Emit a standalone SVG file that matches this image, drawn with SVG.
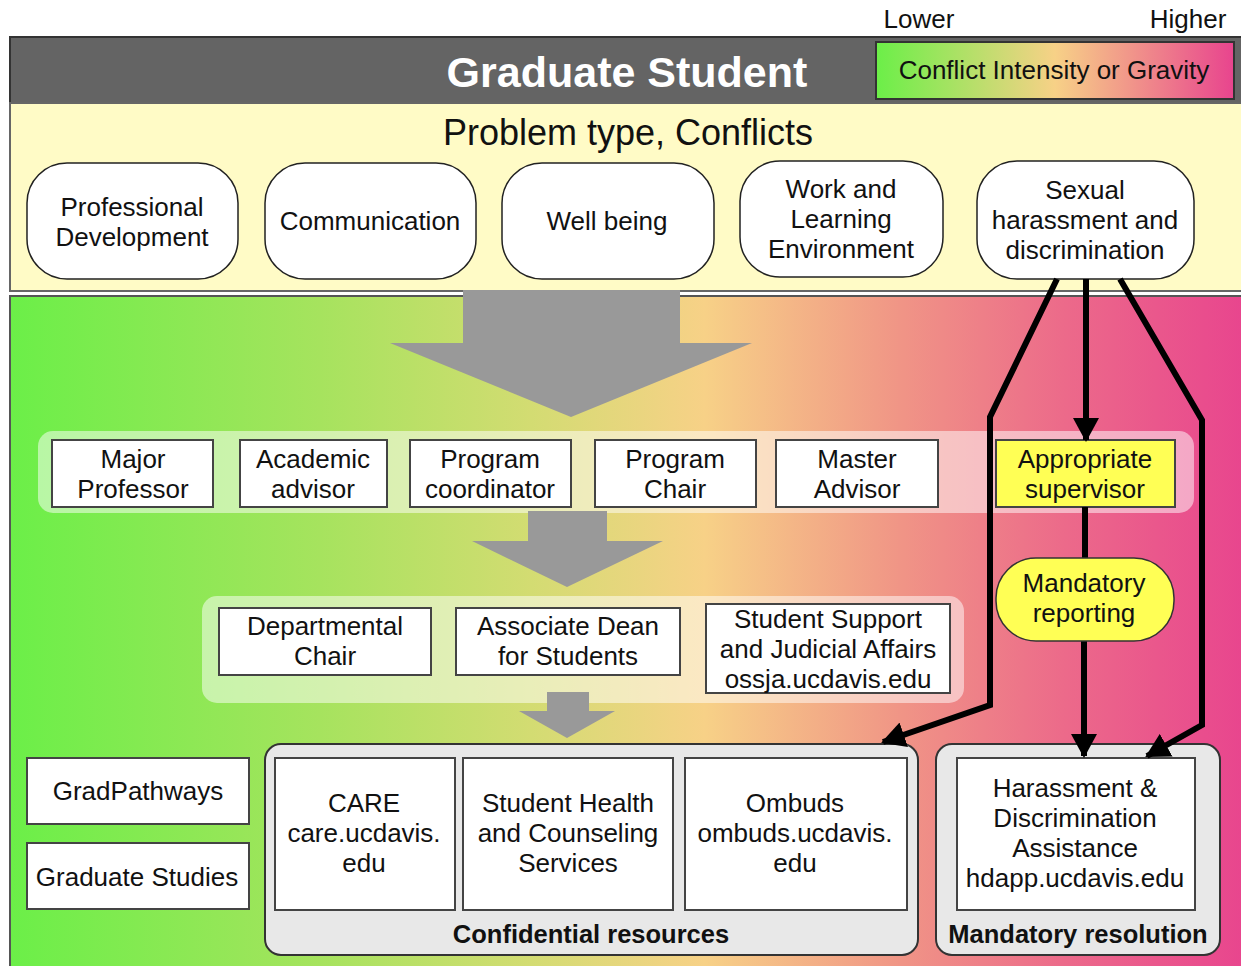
<svg xmlns="http://www.w3.org/2000/svg" width="1241" height="966" viewBox="0 0 1241 966">
<defs>
<linearGradient id="heat" x1="0" y1="0" x2="1" y2="0">
<stop offset="0" stop-color="#6bef48"/>
<stop offset="0.25" stop-color="#a6e35e"/>
<stop offset="0.42" stop-color="#d3dc72"/>
<stop offset="0.56" stop-color="#f7d187"/>
<stop offset="0.72" stop-color="#f09486"/>
<stop offset="0.85" stop-color="#ec6a8a"/>
<stop offset="1" stop-color="#e8448e"/>
</linearGradient>
<linearGradient id="legend" x1="0" y1="0" x2="1" y2="0">
<stop offset="0" stop-color="#6bef48"/>
<stop offset="0.5" stop-color="#f7d187"/>
<stop offset="1" stop-color="#e8448e"/>
</linearGradient>
<marker id="ah" viewBox="0 0 24 26" refX="22" refY="13" markerWidth="24" markerHeight="26" markerUnits="userSpaceOnUse" orient="auto">
<path d="M0,0 L24,13 L0,26 Z" fill="#000"/>
</marker>
<style>
text{font-family:"Liberation Sans",Arial,sans-serif;fill:#111;text-anchor:middle}
.t{font-size:26px}
.b{font-size:25.5px;font-weight:bold}
.prob{fill:#fff;stroke:#222;stroke-width:1.5}
.box{fill:#fff;stroke:#444;stroke-width:2}
.grp{fill:#fff;fill-opacity:0.5}
.res{fill:#e8e8e8;stroke:#333;stroke-width:2}
.big{fill:#999}
.con{fill:none;stroke:#000;stroke-width:6;stroke-linejoin:miter}
</style>
</defs>

<!-- header -->
<g id="header">
<rect x="10" y="37" width="1240" height="66" fill="#646464" stroke="#333" stroke-width="2"/>
<text x="627" y="87" style="font-size:43px;font-weight:bold;fill:#fff">Graduate Student</text>
</g>
<g id="legend-box">
<text x="919" y="28" class="t">Lower</text>
<text x="1188" y="28" class="t">Higher</text>
<rect x="876" y="42" width="358" height="57" fill="url(#legend)" stroke="#333" stroke-width="2"/>
<text x="1054" y="79" class="t">Conflict Intensity or Gravity</text>
</g>

<!-- problem band -->
<g id="problem-band">
<rect x="10" y="103" width="1240" height="188" fill="#fffbc6" stroke="#666" stroke-width="2"/>
<text x="628" y="145" style="font-size:36px">Problem type, Conflicts</text>
</g>

<!-- gradient area -->
<rect x="10" y="296" width="1240" height="680" fill="url(#heat)" stroke="#555" stroke-width="2"/>

<g id="p-prof"><rect class="prob" x="27" y="163" width="211" height="116" rx="40"/><text class="t" x="132" y="216">Professional</text><text class="t" x="132" y="246">Development</text></g>
<g id="p-comm"><rect class="prob" x="265" y="163" width="211" height="116" rx="40"/><text class="t" x="370" y="230">Communication</text></g>
<g id="p-well"><rect class="prob" x="502" y="163" width="212" height="116" rx="40"/><text class="t" x="607" y="230">Well being</text></g>
<g id="p-work"><rect class="prob" x="740" y="161" width="203" height="116" rx="40"/><text class="t" x="841" y="198">Work and</text><text class="t" x="841" y="228">Learning</text><text class="t" x="841" y="258">Environment</text></g>
<g id="p-sex"><rect class="prob" x="977" y="161" width="217" height="118" rx="40"/><text class="t" x="1085" y="199">Sexual</text><text class="t" x="1085" y="229">harassment and</text><text class="t" x="1085" y="259">discrimination</text></g>

<!-- row groups -->
<g id="row1">
<rect class="grp" x="38" y="431" width="1156" height="82" rx="15"/>
</g>
<g id="row2">
<rect class="grp" x="202" y="596" width="762" height="107" rx="15"/>
</g>

<!-- big arrows -->
<g id="flow-arrows">
<path class="big" d="M463,290 H680 V343 H752 L571,417 L390,343 H463 Z"/>
<path class="big" d="M528,511 H607 V541 H663 L567,587 L472,541 H528 Z"/>
<path class="big" d="M547,692 H589 V711 H615 L567,738 L519,711 H547 Z"/>
</g>

<g id="n-major"><rect class="box" x="52" y="440" width="161" height="67"/><text class="t" x="133" y="468">Major</text><text class="t" x="133" y="498">Professor</text></g>
<g id="n-acad"><rect class="box" x="240" y="440" width="147" height="67"/><text class="t" x="313" y="468">Academic</text><text class="t" x="313" y="498">advisor</text></g>
<g id="n-coord"><rect class="box" x="410" y="440" width="161" height="67"/><text class="t" x="490" y="468">Program</text><text class="t" x="490" y="498">coordinator</text></g>
<g id="n-chair"><rect class="box" x="595" y="440" width="161" height="67"/><text class="t" x="675" y="468">Program</text><text class="t" x="675" y="498">Chair</text></g>
<g id="n-master"><rect class="box" x="776" y="440" width="162" height="67"/><text class="t" x="857" y="468">Master</text><text class="t" x="857" y="498">Advisor</text></g>
<g id="n-approp"><rect class="box" x="996" y="440" width="179" height="67" style="fill:#ffff55"/><text class="t" x="1085" y="468">Appropriate</text><text class="t" x="1085" y="498">supervisor</text></g>

<g id="n-dept"><rect class="box" x="219" y="608" width="212" height="67"/><text class="t" x="325" y="635">Departmental</text><text class="t" x="325" y="665">Chair</text></g>
<g id="n-dean"><rect class="box" x="456" y="608" width="224" height="67"/><text class="t" x="568" y="635">Associate Dean</text><text class="t" x="568" y="665">for Students</text></g>
<g id="n-ossja"><rect class="box" x="706" y="604" width="244" height="89"/><text class="t" x="828" y="628">Student Support</text><text class="t" x="828" y="658">and Judicial Affairs</text><text class="t" x="828" y="688">ossja.ucdavis.edu</text></g>

<!-- bottom left -->
<g id="n-gradpath"><rect class="box" x="27" y="758" width="222" height="66"/><text class="t" x="138" y="800">GradPathways</text></g>
<g id="n-gradstud"><rect class="box" x="27" y="843" width="222" height="66"/><text class="t" x="137" y="886">Graduate Studies</text></g>

<!-- confidential -->
<g id="confidential">
<rect class="res" x="265" y="744" width="653" height="211" rx="16"/>
<text class="b" x="591" y="943">Confidential resources</text>
</g>
<g id="n-care"><rect class="box" x="275" y="758" width="180" height="152"/><text class="t" x="364" y="812">CARE</text><text class="t" x="364" y="842">care.ucdavis.</text><text class="t" x="364" y="872">edu</text></g>
<g id="n-health"><rect class="box" x="463" y="758" width="210" height="152"/><text class="t" x="568" y="812">Student Health</text><text class="t" x="568" y="842">and Counseling</text><text class="t" x="568" y="872">Services</text></g>
<g id="n-ombuds"><rect class="box" x="685" y="758" width="222" height="152"/><text class="t" x="795" y="812">Ombuds</text><text class="t" x="795" y="842">ombuds.ucdavis.</text><text class="t" x="795" y="872">edu</text></g>

<!-- mandatory resolution -->
<g id="mandatory">
<rect class="res" x="936" y="744" width="284" height="211" rx="16"/>
<text class="b" x="1078" y="943">Mandatory resolution</text>
</g>
<g id="n-hdapp"><rect class="box" x="957" y="758" width="238" height="152"/><text class="t" x="1075" y="797">Harassment &amp;</text><text class="t" x="1075" y="827">Discrimination</text><text class="t" x="1075" y="857">Assistance</text><text class="t" x="1075" y="887">hdapp.ucdavis.edu</text></g>

<!-- connectors -->
<g id="connectors">
<path class="con" d="M1057,279 L990,417 L990,705 L883,742" marker-end="url(#ah)"/>
<path class="con" d="M1086,279 L1086,440" marker-end="url(#ah)"/>
<path class="con" d="M1085,507 L1085,560"/>
<path class="con" d="M1084,640 L1084,756" marker-end="url(#ah)"/>
<path class="con" d="M1120,279 L1202,420 L1202,725 L1147,756" marker-end="url(#ah)"/>
</g>

<g id="n-report"><rect x="996" y="558" width="178" height="83" rx="40" fill="#ffff55" stroke="#333" stroke-width="1.5"/><text class="t" x="1084" y="592">Mandatory</text><text class="t" x="1084" y="622">reporting</text></g>
</svg>
